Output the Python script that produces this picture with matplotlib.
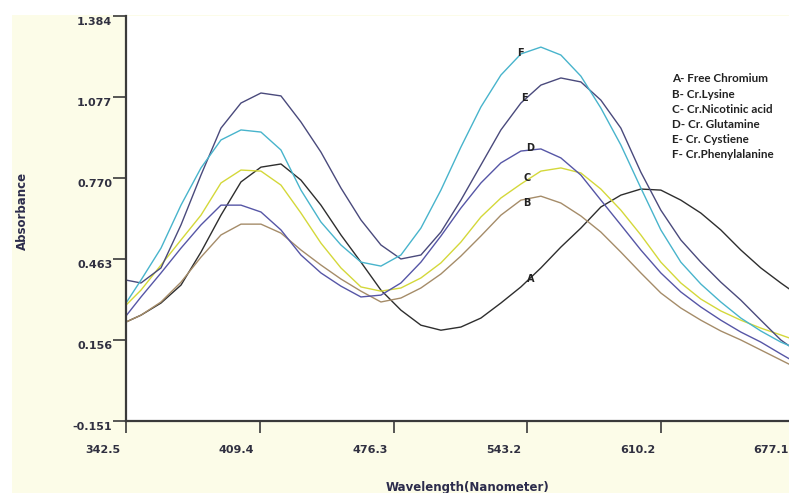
import matplotlib
matplotlib.use("Agg")
import matplotlib.pyplot as plt
from matplotlib.patches import Rectangle
from matplotlib.transforms import ScaledTranslation

# wavelength grid (nm)
wavelength = [342.5, 350, 360, 370, 380, 390, 400, 410, 420, 430, 440, 450,
              460, 470, 480, 490, 500, 510, 520, 530, 540, 550, 560, 570,
              580, 590, 600, 610, 620, 630, 640, 650, 660, 670, 677.1]

# absorbance of each complex
abs_A = [0.223, 0.249, 0.295, 0.363, 0.488, 0.628, 0.754, 0.810, 0.822, 0.761,
         0.666, 0.553, 0.450, 0.344, 0.268, 0.211, 0.192, 0.204, 0.238, 0.295,
         0.356, 0.428, 0.507, 0.579, 0.659, 0.704, 0.727, 0.723, 0.685, 0.636,
         0.572, 0.496, 0.428, 0.371, 0.333]
abs_B = [0.223, 0.249, 0.299, 0.374, 0.469, 0.553, 0.594, 0.594, 0.560, 0.496,
         0.439, 0.386, 0.340, 0.299, 0.314, 0.352, 0.405, 0.473, 0.549, 0.628,
         0.685, 0.700, 0.674, 0.625, 0.564, 0.488, 0.409, 0.333, 0.276, 0.230,
         0.189, 0.155, 0.117, 0.079, 0.052]
abs_C = [0.287, 0.344, 0.439, 0.534, 0.628, 0.750, 0.799, 0.795, 0.742, 0.636,
         0.522, 0.428, 0.356, 0.340, 0.352, 0.390, 0.447, 0.526, 0.621, 0.693,
         0.746, 0.795, 0.807, 0.788, 0.727, 0.647, 0.553, 0.450, 0.371, 0.310,
         0.265, 0.230, 0.200, 0.174, 0.155]
abs_D = [0.246, 0.318, 0.409, 0.503, 0.591, 0.666, 0.666, 0.640, 0.572, 0.477,
         0.409, 0.359, 0.318, 0.325, 0.371, 0.450, 0.549, 0.655, 0.750, 0.826,
         0.871, 0.879, 0.845, 0.780, 0.685, 0.591, 0.496, 0.409, 0.337, 0.280,
         0.230, 0.185, 0.147, 0.102, 0.071]
abs_E = [0.382, 0.371, 0.428, 0.591, 0.780, 0.958, 1.053, 1.091, 1.080, 0.981,
         0.867, 0.731, 0.610, 0.515, 0.462, 0.477, 0.564, 0.685, 0.818, 0.951,
         1.053, 1.121, 1.148, 1.133, 1.064, 0.958, 0.791, 0.647, 0.534, 0.450,
         0.374, 0.306, 0.230, 0.155, 0.117]
abs_F = [0.295, 0.382, 0.503, 0.666, 0.807, 0.913, 0.951, 0.943, 0.875, 0.723,
         0.602, 0.515, 0.450, 0.435, 0.477, 0.579, 0.723, 0.886, 1.038, 1.159,
         1.239, 1.265, 1.235, 1.155, 1.034, 0.894, 0.731, 0.572, 0.450, 0.367,
         0.299, 0.238, 0.189, 0.147, 0.124]

letters = ["A", "B", "C", "D", "E", "F"]
names = ["A- Free Chromium", "B- Cr.Lysine", "C- Cr.Nicotinic acid",
         "D- Cr. Glutamine", "E- Cr. Cystiene", "F- Cr.Phenylalanine"]
colors = ["#2e2e2e", "#a58c69", "#d4d83a", "#5656a6", "#4a4a7c", "#48b4cc"]
# where the letter tags sit (wavelength, absorbance)
tag_x = [545.0, 543.0, 543.0, 544.5, 542.0, 540.0]
tag_y = [0.386, 0.674, 0.769, 0.882, 1.072, 1.243]

xticks = [342.5, 409.4, 476.3, 543.2, 610.2, 677.1]
yticks = [-0.151, 0.156, 0.463, 0.770, 1.077, 1.384]

W, H = 789, 493
fig = plt.figure(figsize=(W / 100, H / 100), dpi=100)
fig.patch.set_facecolor("white")
fig.add_artist(Rectangle((12 / W, 0), 1, 1 - 15 / H, transform=fig.transFigure,
                         facecolor="#fcfce8", edgecolor="none", zorder=-5))

ax = fig.add_axes([126 / W, (H - 420.7) / H, (795 - 126) / W, 405 / H])
ax.set_facecolor("white")

series = [abs_A, abs_B, abs_C, abs_D, abs_E, abs_F]
for ys, c in zip(series, colors):
    ax.plot(wavelength, ys, color=c, lw=1.0, solid_joinstyle="round")

for lt, tx, ty in zip(letters, tag_x, tag_y):
    ax.text(tx, ty, lt, ha="center", va="center", fontsize=7,
            fontweight="bold", color="#222222")

ax.set_xlim(342.5, 677.1)
ax.set_ylim(-0.151, 1.384)
ax.set_xticks(xticks)
ax.set_xticklabels(["%.1f" % v for v in xticks])
ax.set_yticks(yticks)
ax.set_yticklabels(["%.3f" % v for v in yticks])

for s in ["top", "right"]:
    ax.spines[s].set_visible(False)
for s in ["left", "bottom"]:
    ax.spines[s].set_color("#3a3a3a")
    ax.spines[s].set_linewidth(1.6)

ax.tick_params(axis="y", direction="out", length=9.4, width=1.2, pad=0.5,
               colors="#3a3a3a", labelsize=8, labelcolor="#303040")
ax.tick_params(axis="x", direction="out", length=8.6, width=1.2, pad=9,
               colors="#3a3a3a", labelsize=8, labelcolor="#303040")

dy = ScaledTranslation(0, -0.05, fig.dpi_scale_trans)
for lab in ax.get_yticklabels():
    lab.set_fontweight("bold")
    lab.set_transform(lab.get_transform() + dy)
dx = ScaledTranslation(-0.06, 0, fig.dpi_scale_trans)
for lab in ax.get_xticklabels():
    lab.set_fontweight("bold")
    lab.set_ha("right")
    lab.set_transform(lab.get_transform() + dx)

fig.text(22 / W, 1 - 211 / H, "Absorbance", rotation=90, ha="center",
         va="center", fontsize=8.5, fontweight="bold", color="#2c2c4c")
fig.text(468 / W, 1 - 487 / H, "Wavelength(Nanometer)", ha="center",
         va="center", fontsize=8.5, fontweight="bold", color="#2c2c4c")

for i, nm in enumerate(names):
    fig.text(672 / W, 1 - (79 + 15.2 * i) / H, nm, ha="left", va="center",
             fontsize=8.4, fontweight="bold", family="Lato", color="#222222")

fig.savefig("out.png", dpi=100)
